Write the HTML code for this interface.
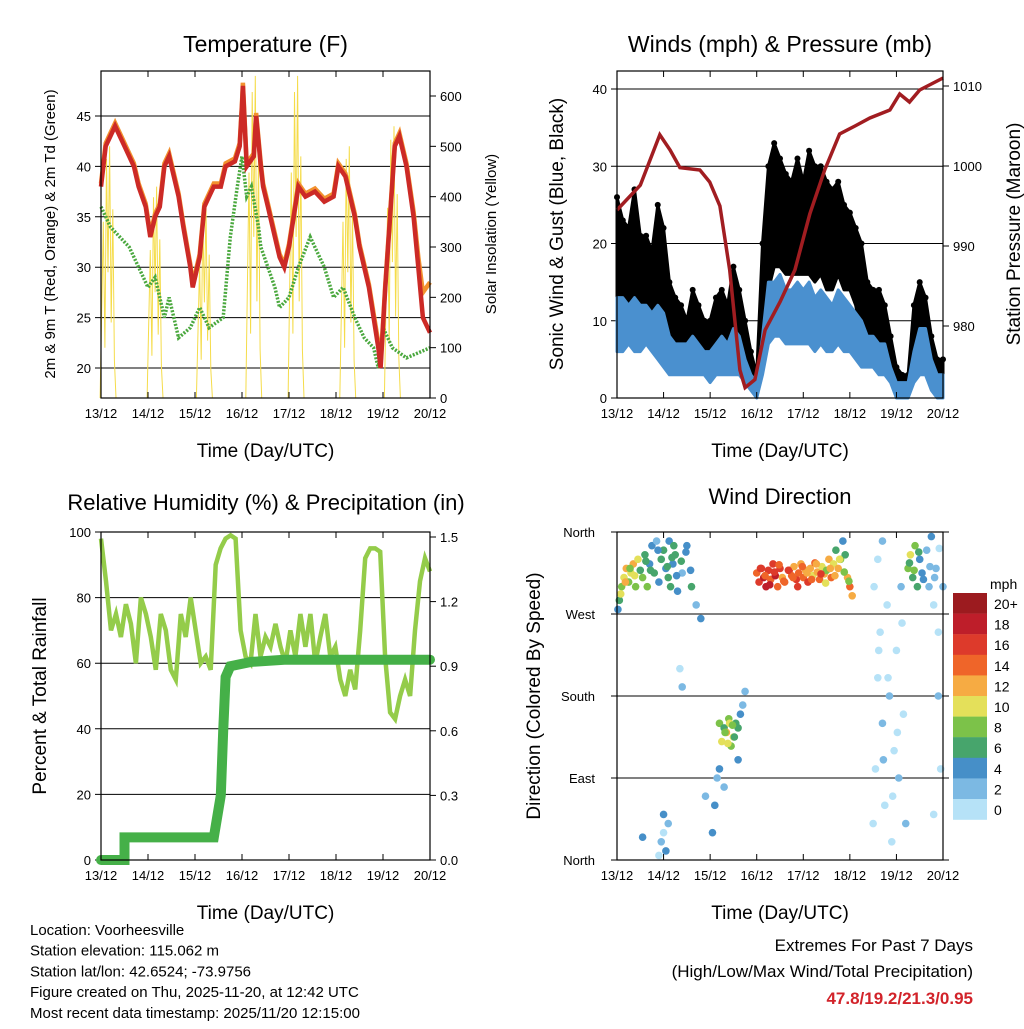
<!DOCTYPE html>
<html><head><meta charset="utf-8"><style>
body{margin:0;background:#fff}
svg{font-family:"Liberation Sans",sans-serif}
</style></head><body>
<svg id="c" width="1024" height="1024" xmlns="http://www.w3.org/2000/svg"></svg>
<script>
// ---- Temperature data (day offset from 13/12, degF) ----
const tDays=[0,0.1,0.2,0.3,0.4,0.5,0.6,0.7,0.8,0.95,1.05,1.15,1.25,1.35,1.45,1.65,1.75,1.9,1.95,2.1,2.2,2.3,2.4,2.55,2.65,2.85,2.95,3.0,3.02,3.1,3.25,3.3,3.4,3.45,3.55,3.7,3.8,3.9,4.0,4.1,4.2,4.35,4.55,4.75,4.95,5.05,5.2,5.3,5.4,5.5,5.7,5.9,5.95,6.05,6.15,6.25,6.35,6.5,6.65,6.75,6.85,7.0];
const temp2m=[38,42,43,44,43,42,41,40,38,36,33,35,36,40,41,37,34,30,28,31,36,37,38,38,40,40.5,42,46,48,40,41,45,40,38,36,33,31,30,32,35,38,37,37.5,36.5,37,40,39,37,35,32,28,22,20,28,35,42,43,40,35,30,25,23.5];
const temp9m=[38.3,42.3,43.3,44.3,43.3,42.3,41.3,40.3,38.3,36.3,33.3,35.3,36.3,40.3,41.3,37.3,34.3,30.3,28.3,31.3,36.3,37.3,38.3,38.3,40.3,40.8,42.3,46.3,48.3,40.3,41.3,45.3,40.3,38.3,36.3,33.3,31.3,30.3,32.3,35.3,38.3,37.3,37.8,36.8,37.3,40.3,39.3,37.3,35.3,32.3,28.3,22.5,20.5,28.3,35.3,42.3,43.3,40.3,35.5,31,27.5,28.5];
const tdDays=[0,0.2,0.4,0.6,0.8,1.0,1.15,1.35,1.45,1.65,1.9,2.1,2.3,2.6,2.75,2.9,3.0,3.1,3.2,3.35,3.4,3.55,3.7,3.8,4.0,4.2,4.45,4.75,4.95,5.15,5.4,5.6,5.8,5.9,6.0,6.2,6.5,7.0];
const dew2m=[36,34,33,32,30,28,29,25,27,23,24,26,24,25,33,38,41,37,38,34,32,30,28,26,27,30,33,30,27,28,25,23,22,20,24,22,21,22];
const solarPeakDay=[0.15,1.15,2.2,3.25,4.15,5.25,6.2];
const solarPeak=[500,420,380,640,640,500,540];
// ---- Wind data (3-hourly, mph) ----
const gustHi=[26,23,22,27,21,21,19,25,22,15,13,12,10,14,12,10,10,13,14,12,17,14,10,6,3,20,30,33,31,29,28,31,28,32,30,30,28,27,28,25,24,22,20,15,14,14,12,8,4,3,3,12,15,13,8,5,5];
const gustLo=[8,10,12,10,10,12,10,8,8,6,5,5,5,5,5,5,4,5,6,6,6,5,3,2,1,5,14,17,17,16,16,16,16,16,15,16,14,14,16,14,14,12,8,8,8,7,6,4,2,1,1,4,5,5,2,1,1];
const windHi=[13,13,12,13,12,12,11,12,11,8,7,7,7,8,7,6,6,7,8,7,9,8,5,3,2,8,15,15,16,14,14,15,14,15,13,14,13,12,14,13,12,11,10,8,8,7,7,4,2,2,2,6,9,9,5,3,3];
const windLo=[6,6,7,6,6,7,6,5,4,3,3,3,3,3,3,3,2,3,3,3,3,3,2,1,0,3,7,8,8,7,7,7,7,7,6,7,6,6,7,6,6,5,4,4,4,3,3,2,0,0,0,2,3,3,1,0,0];
const presDays=[0,0.5,0.92,1.14,1.35,1.78,1.99,2.21,2.42,2.64,2.75,2.96,3.18,3.5,3.82,4.14,4.46,4.78,5.11,5.43,5.86,6.07,6.28,6.5,7];
const pressure=[994.5,997.6,1003.9,1002,999.8,999.5,998,995,987,974.5,972.3,973.3,979.5,983,987,994,999.5,1004,1005,1006,1007,1009,1008,1009.5,1011];
// ---- RH / precip ----
const rh=[98,85,70,75,68,78,72,60,80,75,68,58,75,70,58,55,75,68,80,70,60,62,58,90,95,98,99,98,70,62,60,75,62,68,65,72,65,60,70,62,75,65,75,60,68,75,62,65,55,50,58,52,70,92,95,95,94,62,45,43,50,55,50,70,85,92,88];
const precDays=[0,0.5,0.5,2.4,2.55,2.6,2.65,2.75,3.2,3.9,7];
const precip=[0,0,0.105,0.105,0.3,0.6,0.85,0.9,0.92,0.93,0.93];
// ---- Wind direction ----
const wdDay=[0.02,0.05,0.1,0.15,0.2,0.25,0.3,0.35,0.4,0.45,0.5,0.55,0.6,0.65,0.7,0.75,0.8,0.85,0.9,0.95,1.0,1.05,1.1,1.15,1.2,1.25,1.3,1.4,1.5,1.6,1.7,1.8,0.95,1.0,1.05,1.1,1.0,0.55,0.9,2.2,2.25,2.3,2.35,2.4,2.45,2.5,2.55,2.6,2.65,2.7,2.75,2.15,2.1,2.2,1.35,1.4,1.9,2.05,2.3,2.6,3.0,3.05,3.1,3.15,3.2,3.25,3.3,3.35,3.4,3.45,3.5,3.55,3.6,3.7,3.75,3.8,3.85,3.9,3.95,4.0,4.05,4.1,4.15,4.2,4.25,4.3,4.35,4.4,4.45,4.5,4.55,4.6,4.65,4.7,4.75,4.8,4.85,4.9,4.95,5.0,5.05,5.5,5.55,5.6,5.65,5.7,5.75,5.8,5.85,5.9,5.95,6.0,6.05,6.1,5.6,5.7,6.15,6.2,6.25,6.3,6.35,6.4,6.45,6.5,6.55,6.65,6.7,6.75,6.8,6.85,6.9,6.95,7.0,6.8,6.9,
0.08,0.18,0.28,0.38,0.62,0.72,0.88,1.08,1.18,1.28,1.38,1.48,1.58,1.12,1.22,3.08,3.18,3.28,3.38,3.48,3.58,3.68,3.78,3.88,3.98,4.08,4.18,4.28,4.38,4.48,4.58,4.68,4.78,4.88,4.98,6.28,6.38,6.48,6.58,6.72,6.82,6.92,2.32,2.42,2.52,2.38,2.48,5.52,5.62,5.72,5.82,5.92,6.02,6.12];
const wdDir=[275,285,300,310,320,305,315,325,300,330,318,310,335,300,325,345,315,350,305,330,340,320,310,300,325,335,295,315,345,300,280,265,20,50,10,40,30,25,5,150,130,145,140,155,125,135,150,145,160,170,185,90,60,100,210,190,70,30,80,110,315,305,320,310,300,318,308,325,312,300,320,310,305,318,312,322,308,315,325,310,318,305,320,312,326,316,308,322,314,318,330,310,325,340,320,330,350,335,310,300,290,40,100,200,250,150,60,280,180,20,120,230,90,300,330,350,160,40,320,335,310,345,300,330,315,340,300,355,280,320,250,100,300,50,180,
292,305,320,312,328,318,340,322,332,312,328,338,318,350,345,320,312,302,316,324,306,318,310,300,322,315,308,325,314,304,320,312,330,316,306,326,318,338,308,322,310,342,140,150,135,128,148,300,230,110,200,70,140,260];
const wdSpd=[4,6,8,10,12,9,11,12,8,10,6,9,7,8,5,4,6,3,5,7,6,4,6,7,5,6,4,3,4,6,3,5,3,4,4,3,1,4,1,8,10,7,12,9,8,11,6,7,4,3,2,3,4,4,1,2,3,4,3,4,14,16,17,18,19,16,15,17,18,14,16,13,15,17,14,12,16,15,13,14,12,16,13,10,14,12,15,11,13,9,12,14,10,7,12,9,5,6,12,14,12,1,0,1,0,2,0,1,2,0,1,0,2,3,1,3,1,2,8,10,6,9,7,5,4,3,2,4,1,3,0,1,2,1,2,
10,12,9,11,7,6,5,6,7,5,6,4,5,5,6,17,15,18,16,15,14,16,15,17,14,13,15,12,16,11,13,12,10,8,9,7,9,6,5,3,2,1,9,10,7,11,8,1,0,2,1,0,1,0];
const cbLabels=["20+","18","16","14","12","10","8","6","4","2","0"];
const cbColors=["#9c1b1f","#be1e2a","#dd3a2b","#ef6529","#f6ab43","#e4e05a","#7cc249","#47a56c","#468fc8","#7cb9e3","#b6e2f7"];

const svg=document.getElementById('c');
const NS='http://www.w3.org/2000/svg';
function mk(tag,attrs,parent){const e=document.createElementNS(NS,tag);for(const k in attrs)e.setAttribute(k,attrs[k]);(parent||svg).appendChild(e);return e;}
function txt(s,x,y,size,anchor,parent,extra){const e=mk('text',Object.assign({x:x,y:y,'font-size':size,'text-anchor':anchor||'middle',fill:'#000'},extra||{}),parent);e.textContent=s;return e;}
function lin(d0,d1,p0,p1){return v=>p0+(v-d0)/(d1-d0)*(p1-p0);}
function poly(xs,ys,fx,fy,attrs,parent){return mk('polyline',Object.assign({points:xs.map((x,i)=>fx(x).toFixed(1)+','+fy(ys[i]).toFixed(1)).join(' '),fill:'none'},attrs),parent);}
function speedColor(s){let i=10-Math.min(10,Math.floor(s/2));return cbColors[i];}

function panel(name,L,T,R,B,title){
  const g=mk('g',{});
  
  
  const t=txt(title,(L+R)/2,52,23,'middle',g);
  
  
  return g;
}
function frame(g,L,T,R,B){
  const r=mk('rect',{x:L,y:T,width:R-L,height:B-T,fill:'none',stroke:'#000','stroke-width':1.2},g);
  
  
  const labels=['13/12','14/12','15/12','16/12','17/12','18/12','19/12','20/12'];
  const fx=lin(0,7,L,R);
  labels.forEach((s,i)=>{
    const x=fx(i);
    mk('line',{x1:x,y1:T,x2:x,y2:T+6,stroke:'#000'},g);
    mk('line',{x1:x,y1:B,x2:x,y2:B-6,stroke:'#000'},g);
    const tl=txt(s,x,B+20,13,'middle',g);
    
    
  });
  const xt=txt('Time (Day/UTC)',(L+R)/2,B+59,19,'middle',g);
  
  
}
function yAxis(g,L,R,fy,vals,fmt,side,grid){
  vals.forEach(v=>{
    const y=fy(v);
    if(grid) mk('line',{x1:L-6,y1:y,x2:R,y2:y,stroke:'#000','stroke-width':1},g);
    if(side==='left'){ if(!grid) mk('line',{x1:L-6,y1:y,x2:L,y2:y,stroke:'#000'},g);
      const t=txt(fmt(v),L-10,y+5,13,'end',g);  }
    else { mk('line',{x1:R,y1:y,x2:R+6,y2:y,stroke:'#000'},g);
      const t=txt(fmt(v),R+10,y+5,13,'start',g);  }
  });
}
function vtitle(g,s,x,y,size,name){
  const t=txt(s,x,y,size,'middle',g,{transform:'rotate(-90 '+x+' '+y+')'});
  
  
}

// ===== Panel 1: Temperature =====
(function(){
  const L=101,T=71,R=430,B=398;
  const g=panel('temperature-panel',L,T,R,B,'Temperature (F)');
  const fx=lin(0,7,L,R), fy=lin(20,45,368,116), fs=lin(0,600,398,96);
  yAxis(g,L,R,fy,[20,25,30,35,40,45],v=>v,'left',true);
  yAxis(g,L,R,fs,[0,100,200,300,400,500,600],v=>v,'right',false);
  const shape=[0,0.35,0.7,0.2,0.95,0.5,1,0.3,0.75,0.15,0];
  solarPeakDay.forEach((d,i)=>{
    const xs=shape.map((s,j)=>d-0.17+j*0.034);
    const ys=shape.map(s=>s*solarPeak[i]);
    const p=poly(xs,ys,fx,v=>Math.min(fs(v),fs(0)),{stroke:'#f5dc4a','stroke-width':1},g);
    
    
  });
  const gd=poly(tdDays,dew2m,fx,fy,{stroke:'#4aa83e','stroke-width':3.5,'stroke-dasharray':'2 1.5'},g);
  
  
  const o=poly(tDays,temp9m,fx,fy,{stroke:'#f2922f','stroke-width':4.5},g);
  
  
  const r=poly(tDays,temp2m,fx,fy,{stroke:'#cc2a26','stroke-width':4.5},g);
  
  
  frame(g,L,T,R,B);
  vtitle(g,'2m & 9m T (Red, Orange) & 2m Td (Green)',55,234,15,'left-axis-title');
  vtitle(g,'Solar Insolation (Yellow)',496,234,15,'right-axis-title');
})();

// ===== Panel 2: Winds =====
(function(){
  const L=617,T=71,R=943,B=398;
  const g=panel('winds-panel',L,T,R,B,'Winds (mph) & Pressure (mb)');
  const fx=lin(0,7,L,R), fy=lin(0,40,398,89), fp=lin(980,1010,326,86);
  yAxis(g,L,R,fy,[0,10,20,30,40],v=>v,'left',true);
  yAxis(g,L,R,fp,[980,990,1000,1010],v=>v,'right',false);
  const n=gustHi.length, days=gustHi.map((v,i)=>i*7/(n-1));
  function band(hi,lo,col,name){
    const pts=days.map((d,i)=>fx(d).toFixed(1)+','+fy(hi[i]).toFixed(1)).concat(days.slice().reverse().map((d,j)=>{const i=n-1-j;return fx(d).toFixed(1)+','+fy(lo[i]).toFixed(1);})).join(' ');
    const p=mk('polygon',{points:pts,fill:col,stroke:col,'stroke-width':3,'stroke-linejoin':'round'},g);
    
    
  }
  band(gustHi,gustLo,'#000','gust-band');
  days.forEach((d,i)=>{
    const c=mk('circle',{cx:fx(d),cy:fy(gustHi[i]),r:3,fill:'#000'},g);
    
    
  });
  band(windHi,windLo,'#4a90cf','wind-band');
  const p=poly(presDays,pressure,fx,fp,{stroke:'#a11d21','stroke-width':3.5},g);
  
  
  frame(g,L,T,R,B);
  vtitle(g,'Sonic Wind & Gust (Blue, Black)',563,234,19,'left-axis-title');
  vtitle(g,'Station Pressure (Maroon)',1020,234,19,'right-axis-title');
})();

// ===== Panel 3: RH & precip =====
(function(){
  const L=101,T=532,R=430,B=860;
  const g=panel('humidity-panel',L,T,R,B,'');
  const t=txt('Relative Humidity (%) & Precipitation (in)',266,510,22,'middle',g);
  
  
  const fx=lin(0,7,L,R), fy=lin(0,100,860,532), fr=lin(0,1.5,860,537);
  yAxis(g,L,R,fy,[0,20,40,60,80,100],v=>v,'left',true);
  yAxis(g,L,R,fr,[0,0.3,0.6,0.9,1.2,1.5],v=>v.toFixed(1),'right',false);
  const days=rh.map((v,i)=>i*7/(rh.length-1));
  const l=poly(days,rh,fx,fy,{stroke:'#94cc4a','stroke-width':4.5},g);
  
  
  const p=poly(precDays,precip,fx,fr,{stroke:'#45b048','stroke-width':10,'stroke-linecap':'round'},g);
  
  
  frame(g,L,T,R,B);
  vtitle(g,'Percent & Total Rainfall',46,696,19,'left-axis-title');
})();

// ===== Panel 4: Wind direction =====
(function(){
  const L=617,T=532,R=943,B=860;
  const g=panel('wind-direction-panel',L,T,R,B,'');
  const t=txt('Wind Direction',780,504,22,'middle',g);
  
  
  const fx=lin(0,7,L,R), fy=lin(0,360,860,532);
  const dl=['North','East','South','West','North'];
  [0,90,180,270,360].forEach((v,i)=>{
    const y=fy(v); mk('line',{x1:L-6,y1:y,x2:R+6,y2:y,stroke:'#000'},g);
    const tl=txt(dl[i],L-22,y+5,13,'end',g);  
  });
  wdDay.forEach((d,i)=>{
    const c=mk('circle',{cx:fx(d),cy:fy(wdDir[i]),r:3.8,fill:speedColor(wdSpd[i])},g);
    
    
  });
  frame(g,L,T,R,B);
  vtitle(g,'Direction (Colored By Speed)',540,696,19,'left-axis-title');
  const cb=mk('g',{},g);
  
  
  txt('mph',990,589,14,'start',cb);
  cbColors.forEach((c,i)=>{
    const y=593+i*20.6;
    const r=mk('rect',{x:953,y:y,width:34,height:20.8,fill:c},cb);
    
    
    txt(cbLabels[i],994,y+16,14,'start',cb);
  });
})();

// ===== Footer text =====
const info=['Location: Voorheesville','Station elevation: 115.062 m','Station lat/lon: 42.6524; -73.9756','Figure created on Thu, 2025-11-20, at 12:42 UTC','Most recent data timestamp: 2025/11/20 12:15:00'];
info.forEach((s,i)=>{const t=txt(s,30,935+i*20.7,15,'start');});
let e1=txt('Extremes For Past 7 Days',973,951,17,'end');
let e2=txt('(High/Low/Max Wind/Total Precipitation)',973,977,17,'end');
let e3=txt('47.8/19.2/21.3/0.95',973,1004,17,'end',null,{fill:'#d2232a','font-weight':'bold'});
</script>
</body></html>
